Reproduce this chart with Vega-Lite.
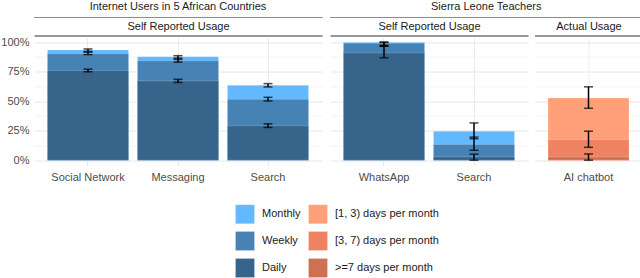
{
  "$schema": "https://vega.github.io/schema/vega-lite/v6.json",
  "padding": {"left": 0, "top": 0, "right": 0, "bottom": 0},
  "background": "white",
  "config": {
    "font": "Liberation Sans",
    "view": {"stroke": null},
    "title": {"fontSize": 11, "fontWeight": "normal", "color": "#1a1a1a", "anchor": "middle"},
    "axis": {"labelFont": "Liberation Sans", "titleFont": "Liberation Sans", "labelOverlap": false},
    "legend": {"labelFont": "Liberation Sans"},
    "bar": {"stroke": "white", "strokeOpacity": 0.2, "strokeWidth": 1}
  },
  "datasets": {
    "d": [
      {"panel": "p1", "cat": "Social Network", "freq": "Monthly", "value": 93.5, "lo": 92.2, "hi": 94.3},
      {"panel": "p1", "cat": "Social Network", "freq": "Weekly", "value": 90.2, "lo": 89.5, "hi": 91.6},
      {"panel": "p1", "cat": "Social Network", "freq": "Daily", "value": 76.1, "lo": 74.9, "hi": 77.2},
      {"panel": "p1", "cat": "Messaging", "freq": "Monthly", "value": 87.7, "lo": 85.4, "hi": 88.6},
      {"panel": "p1", "cat": "Messaging", "freq": "Weekly", "value": 84.2, "lo": 83.1, "hi": 86.4},
      {"panel": "p1", "cat": "Messaging", "freq": "Daily", "value": 67.2, "lo": 65.9, "hi": 68.5},
      {"panel": "p1", "cat": "Search", "freq": "Monthly", "value": 63.5, "lo": 62.1, "hi": 64.9},
      {"panel": "p1", "cat": "Search", "freq": "Weekly", "value": 51.6, "lo": 50.2, "hi": 53.3},
      {"panel": "p1", "cat": "Search", "freq": "Daily", "value": 29.2, "lo": 27.8, "hi": 30.8},
      {"panel": "p2", "cat": "WhatsApp", "freq": "Monthly", "value": 100, "lo": 97.5, "hi": 100},
      {"panel": "p2", "cat": "WhatsApp", "freq": "Weekly", "value": 99.2, "lo": 96.6, "hi": 100},
      {"panel": "p2", "cat": "WhatsApp", "freq": "Daily", "value": 91, "lo": 86.8, "hi": 96.6},
      {"panel": "p2", "cat": "Search", "freq": "Monthly", "value": 24.6, "lo": 18.2, "hi": 31.6},
      {"panel": "p2", "cat": "Search", "freq": "Weekly", "value": 13.4, "lo": 8.4, "hi": 19.6},
      {"panel": "p2", "cat": "Search", "freq": "Daily", "value": 2.8, "lo": 0, "hi": 5.1},
      {"panel": "p3", "cat": "AI chatbot", "freq": "[1, 3) days per month", "value": 52.7, "lo": 44, "hi": 62.2},
      {"panel": "p3", "cat": "AI chatbot", "freq": "[3, 7) days per month", "value": 17.4, "lo": 10.9, "hi": 24.6},
      {"panel": "p3", "cat": "AI chatbot", "freq": ">=7 days per month", "value": 2.8, "lo": 0, "hi": 5.3}
    ],
    "none": []
  },
  "hconcat": [
    {
      "spacing": 2.5,
      "vconcat": [
        {
          "width": 288, "height": 0.001,
          "data": {"name": "none"},
          "mark": {"type": "point", "opacity": 0},
          "encoding": {},
          "view": {"stroke": "#8c8c8c", "strokeWidth": 1},
          "title": {"text": "Internet Users in 5 African Countries", "offset": 5}
        },
        {
          "width": 288, "height": 128,
          "data": {"name": "d"},
          "transform": [{"filter": "datum.panel == 'p1'"}],
          "resolve": {"axis": {"x": "independent"}},
          "layer": [
            {
              "mark": {"type": "bar"},
              "encoding": {
                "x": {"field": "cat", "type": "nominal", "sort": ["Social Network", "Messaging", "Search"],
                  "scale": {"paddingInner": 0.1, "paddingOuter": 0.15},
                  "axis": {"title": null, "orient": "bottom", "domain": false, "ticks": false, "grid": true, "gridColor": "#ebebeb", "bandPosition": 0.5, "labelAngle": 0, "labelFontSize": 11, "labelColor": "#4d4d4d", "labelPadding": 6}},
                "y": {"field": "value", "type": "quantitative", "stack": null,
                  "scale": {"domain": [-4.5, 104], "nice": false, "zero": false},
                  "axis": {"title": null, "values": [0, 12.5, 25, 37.5, 50, 62.5, 75, 87.5, 100], "labelExpr": "datum.value % 25 == 0 ? datum.value + '%' : ''", "labelOverlap": false, "labelFlush": false, "domain": false, "ticks": false, "grid": true, "gridColor": {"condition": {"test": "datum.value % 25 == 0", "value": "#e6e6e6"}, "value": "#f3f3f3"}, "labelFontSize": 11, "labelColor": "#4d4d4d", "labelPadding": 5}},
                "color": {"field": "freq", "type": "nominal",
                  "scale": {"domain": ["Monthly", "Weekly", "Daily", "[1, 3) days per month", "[3, 7) days per month", ">=7 days per month"],
                            "range": ["#63B8FF", "#4682B4", "#36648B", "#FFA07A", "#EE8262", "#CD7054"]},
                  "legend": {"title": null, "orient": "none", "legendX": 201, "legendY": 187, "direction": "vertical", "columns": 2, "symbolType": "square", "symbolSize": 361, "symbolStrokeWidth": 0, "symbolOpacity": 1, "labelFontSize": 11, "labelColor": "#1a1a1a", "labelAlign": "left", "rowPadding": 3, "columnPadding": 5, "labelOffset": 7}},
                "order": {"field": "value", "sort": "descending"}
              }
            },
            {
              "mark": {"type": "errorbar", "color": "black", "thickness": 1.5, "ticks": {"size": 9}},
              "encoding": {
                "x": {"field": "cat", "type": "nominal", "sort": ["Social Network", "Messaging", "Search"],
                  "axis": {"orient": "top", "title": "Self Reported Usage", "labels": false, "ticks": false, "grid": false, "domain": true, "domainColor": "#333333", "domainWidth": 1.2, "offset": 2, "titleFontSize": 11, "titleFontWeight": "normal", "titleColor": "#1a1a1a", "titlePadding": 4}},
                "y": {"field": "lo", "type": "quantitative",
                  "axis": {"title": null, "values": [0, 12.5, 25, 37.5, 50, 62.5, 75, 87.5, 100], "labelExpr": "datum.value % 25 == 0 ? datum.value + '%' : ''", "labelOverlap": false, "labelFlush": false, "domain": false, "ticks": false, "grid": true, "gridColor": {"condition": {"test": "datum.value % 25 == 0", "value": "#e6e6e6"}, "value": "#f3f3f3"}, "labelFontSize": 11, "labelColor": "#4d4d4d", "labelPadding": 5}},
                "y2": {"field": "hi"}
              }
            }
          ]
        }
      ]
    },
    {
      "spacing": 2.5,
      "vconcat": [
        {
          "width": 312.5, "height": 0.001,
          "data": {"name": "none"},
          "mark": {"type": "point", "opacity": 0},
          "encoding": {},
          "view": {"stroke": "#8c8c8c", "strokeWidth": 1},
          "title": {"text": "Sierra Leone Teachers", "offset": 5}
        },
        {
          "spacing": 6.5,
          "hconcat": [
            {
              "width": 198, "height": 128,
              "data": {"name": "d"},
              "transform": [{"filter": "datum.panel == 'p2'"}],
              "resolve": {"axis": {"x": "independent"}},
              "layer": [
                {
                  "mark": {"type": "bar"},
                  "encoding": {
                    "x": {"field": "cat", "type": "nominal", "sort": ["WhatsApp", "Search"],
                      "scale": {"paddingInner": 0.1, "paddingOuter": 0.15},
                      "axis": {"title": null, "orient": "bottom", "domain": false, "ticks": false, "grid": true, "gridColor": "#ebebeb", "bandPosition": 0.5, "labelAngle": 0, "labelFontSize": 11, "labelColor": "#4d4d4d", "labelPadding": 6}},
                    "y": {"field": "value", "type": "quantitative", "stack": null,
                      "scale": {"domain": [-4.5, 104], "nice": false, "zero": false},
                      "axis": {"title": null, "values": [0, 12.5, 25, 37.5, 50, 62.5, 75, 87.5, 100], "labels": false, "domain": false, "ticks": false, "grid": true, "gridColor": {"condition": {"test": "datum.value % 25 == 0", "value": "#e6e6e6"}, "value": "#f3f3f3"}}},
                    "color": {"field": "freq", "type": "nominal"},
                    "order": {"field": "value", "sort": "descending"}
                  }
                },
                {
                  "mark": {"type": "errorbar", "color": "black", "thickness": 1.5, "ticks": {"size": 9}},
                  "encoding": {
                    "x": {"field": "cat", "type": "nominal", "sort": ["WhatsApp", "Search"],
                      "axis": {"orient": "top", "title": "Self Reported Usage", "labels": false, "ticks": false, "grid": false, "domain": true, "domainColor": "#333333", "domainWidth": 1.2, "offset": 2, "titleFontSize": 11, "titleFontWeight": "normal", "titleColor": "#1a1a1a", "titlePadding": 4}},
                    "y": {"field": "lo", "type": "quantitative",
                      "axis": {"title": null, "values": [0, 12.5, 25, 37.5, 50, 62.5, 75, 87.5, 100], "labels": false, "domain": false, "ticks": false, "grid": true, "gridColor": {"condition": {"test": "datum.value % 25 == 0", "value": "#e6e6e6"}, "value": "#f3f3f3"}}},
                    "y2": {"field": "hi"}
                  }
                }
              ]
            },
            {
              "width": 108, "height": 128,
              "data": {"name": "d"},
              "transform": [{"filter": "datum.panel == 'p3'"}],
              "resolve": {"axis": {"x": "independent"}},
              "layer": [
                {
                  "mark": {"type": "bar"},
                  "encoding": {
                    "x": {"field": "cat", "type": "nominal",
                      "scale": {"paddingInner": 0.1, "paddingOuter": 0.15},
                      "axis": {"title": null, "orient": "bottom", "domain": false, "ticks": false, "grid": true, "gridColor": "#ebebeb", "bandPosition": 0.5, "labelAngle": 0, "labelFontSize": 11, "labelColor": "#4d4d4d", "labelPadding": 6}},
                    "y": {"field": "value", "type": "quantitative", "stack": null,
                      "scale": {"domain": [-4.5, 104], "nice": false, "zero": false},
                      "axis": {"title": null, "values": [0, 12.5, 25, 37.5, 50, 62.5, 75, 87.5, 100], "labels": false, "domain": false, "ticks": false, "grid": true, "gridColor": {"condition": {"test": "datum.value % 25 == 0", "value": "#e6e6e6"}, "value": "#f3f3f3"}}},
                    "color": {"field": "freq", "type": "nominal"},
                    "order": {"field": "value", "sort": "descending"}
                  }
                },
                {
                  "mark": {"type": "errorbar", "color": "black", "thickness": 1.5, "ticks": {"size": 9}},
                  "encoding": {
                    "x": {"field": "cat", "type": "nominal",
                      "axis": {"orient": "top", "title": "Actual Usage", "labels": false, "ticks": false, "grid": false, "domain": true, "domainColor": "#333333", "domainWidth": 1.2, "offset": 2, "titleFontSize": 11, "titleFontWeight": "normal", "titleColor": "#1a1a1a", "titlePadding": 4}},
                    "y": {"field": "lo", "type": "quantitative",
                      "axis": {"title": null, "values": [0, 12.5, 25, 37.5, 50, 62.5, 75, 87.5, 100], "labels": false, "domain": false, "ticks": false, "grid": true, "gridColor": {"condition": {"test": "datum.value % 25 == 0", "value": "#e6e6e6"}, "value": "#f3f3f3"}}},
                    "y2": {"field": "hi"}
                  }
                }
              ]
            }
          ]
        }
      ]
    }
  ],
  "spacing": 6,
  "resolve": {"scale": {"color": "shared"}}
}
